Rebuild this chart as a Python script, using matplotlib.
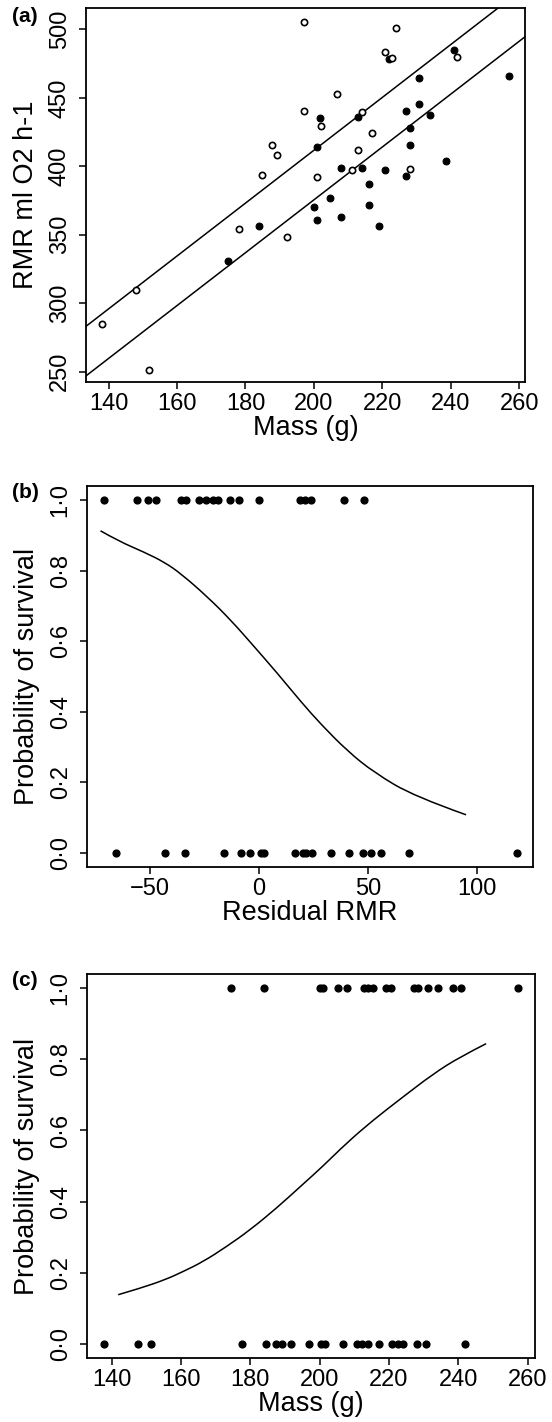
import matplotlib
matplotlib.use('Agg')
import matplotlib.pyplot as plt
from matplotlib.path import Path
from matplotlib.patches import PathPatch
import numpy as np

plt.rcParams['font.family'] = ['Liberation Sans', 'DejaVu Sans']
plt.rcParams['axes.unicode_minus'] = True

# panel (a): survivors (filled) and non-survivors (open)
mass_surv = [241.0, 221.9, 230.7, 257.0, 201.9, 212.9, 227.0, 230.7, 233.9, 200.9,
             228.0, 228.0, 208.0, 214.0, 220.8, 227.0, 216.1, 238.7, 204.8, 200.0,
             216.0, 200.9, 208.0, 219.0, 184.0, 175.0]
rmr_surv = [484.9, 478.3, 464.4, 466.1, 435.5, 435.7, 440.1, 445.2, 437.2, 414.1,
            427.9, 415.3, 398.5, 398.9, 397.3, 392.7, 387.3, 403.8, 376.6, 370.5,
            371.5, 360.8, 363.0, 356.2, 356.2, 330.6]
mass_dead = [197.0, 223.9, 220.9, 222.7, 241.8, 206.8, 197.0, 214.0, 202.0, 217.1,
             187.8, 189.1, 212.9, 211.0, 228.0, 184.8, 200.8, 178.0, 192.0, 148.0,
             138.1, 151.8]
rmr_dead = [505.1, 501.2, 483.6, 478.8, 479.6, 452.8, 440.3, 439.6, 429.4, 424.5,
            415.3, 408.4, 411.9, 397.3, 397.8, 393.6, 392.4, 354.0, 348.1, 309.7,
            284.9, 251.5]
# fitted lines (intercept, common slope)
line_intercepts = [25.7, -10.5]
line_slope = 1.93

# panel (b): residual RMR vs survival
resid_surv = [-71.1, -56.0, -50.9, -47.1, -35.6, -33.3, -27.2, -24.1, -21.1, -18.8,
              -13.4, -8.9, 0.3, 18.7, 21.4, 24.0, 39.0, 48.5]
resid_dead = [-65.7, -43.1, -33.9, -16.1, -8.1, -4.0, 1.1, 2.6, 16.5, 20.2,
              21.7, 24.5, 33.2, 41.6, 48.0, 51.6, 56.3, 69.0, 118.3]
curve_b_x = [-72.6, -64.7, -52.4, -43.3, -35.6, -23.4, -12.7, -2.0, 8.7, 19.4,
             28.6, 40.8, 53.1, 71.4, 95.1]
curve_b_y = [0.913, 0.885, 0.852, 0.824, 0.791, 0.725, 0.659, 0.584, 0.508, 0.428,
             0.364, 0.288, 0.227, 0.160, 0.108]

# panel (c): mass vs survival
massc_surv = [174.4, 184.0, 200.0, 201.0, 205.3, 208.0, 212.8, 213.9, 215.4, 219.2,
              220.6, 227.2, 228.3, 231.2, 234.1, 238.4, 240.8, 257.3]
massc_dead = [137.7, 147.5, 151.5, 177.6, 184.6, 187.5, 189.0, 191.8, 196.8, 200.5,
              201.5, 206.7, 210.8, 212.2, 213.9, 217.0, 220.8, 222.6, 224.0, 228.0,
              230.7, 241.9]
curve_c_x = [141.9, 148.2, 155.4, 160.6, 166.4, 173.1, 179.9, 187.5, 194.3, 201.0,
             207.7, 215.4, 224.0, 232.6, 240.3, 248.0]
curve_c_y = [0.138, 0.156, 0.180, 0.203, 0.231, 0.273, 0.320, 0.381, 0.441, 0.500,
             0.564, 0.629, 0.694, 0.758, 0.806, 0.844]

prob_ticks = [0.0, 0.2, 0.4, 0.6, 0.8, 1.0]
prob_labels = ['0·0', '0·2', '0·4', '0·6', '0·8', '1·0']

W, H = 552, 1422
fig = plt.figure(figsize=(W / 100, H / 100), dpi=100)


def rect(l, r, t, b):
    return [l / W, 1 - b / H, (r - l) / W, (b - t) / H]


def style(ax):
    for s in ax.spines.values():
        s.set_linewidth(1.3)
    ax.tick_params(direction='out', length=5, width=1.1, labelsize=17)
    ax.tick_params(axis='y', pad=6)
    ax.tick_params(axis='x', pad=3)
    for lab in ax.get_yticklabels():
        lab.set_rotation(90)
        lab.set_va('center')


def smooth_curve(ax, xs, ys):
    # quadratic bezier through the read points, so the fitted curve looks smooth
    pts = list(zip(xs, ys))
    verts = [pts[0]]
    codes = [Path.MOVETO]
    for i in range(1, len(pts) - 1):
        mid = ((pts[i][0] + pts[i + 1][0]) / 2, (pts[i][1] + pts[i + 1][1]) / 2)
        if i == len(pts) - 2:
            mid = pts[-1]
        verts += [pts[i], mid]
        codes += [Path.CURVE3, Path.CURVE3]
    ax.add_patch(PathPatch(Path(verts, codes), facecolor='none', edgecolor='black', lw=1.1))


MS = 24
LBL = 19.5

# (a)
ax1 = fig.add_axes(rect(86, 525, 8, 382))
ax1.scatter(mass_surv, rmr_surv, s=MS, c='black', edgecolors='black', linewidths=0.8, zorder=3)
ax1.scatter(mass_dead, rmr_dead, s=MS * 0.85, facecolors='white', edgecolors='black', linewidths=1.2, zorder=3)
for b0 in line_intercepts:
    ax1.axline((0, b0), slope=line_slope, color='black', lw=1.1)
ax1.set_xlim(133.4, 261.7)
ax1.set_ylim(242.5, 515.6)
ax1.set_xticks(np.arange(140, 261, 20))
ax1.set_yticks(np.arange(250, 501, 50))
style(ax1)
ax1.set_xlabel('Mass (g)', fontsize=LBL, labelpad=0)
ax1.set_ylabel('RMR ml O2 h-1', fontsize=LBL, labelpad=7)
fig.text(12 / W, 1 - 16 / H, '(a)', fontsize=15, fontweight='bold', va='center', ha='left')

# (b)
ax2 = fig.add_axes(rect(87, 533, 486, 867))
ax2.scatter(resid_surv, [1] * len(resid_surv), s=MS, c='black', zorder=3)
ax2.scatter(resid_dead, [0] * len(resid_dead), s=MS, c='black', zorder=3)
smooth_curve(ax2, curve_b_x, curve_b_y)
ax2.set_xlim(-78.8, 125.8)
ax2.set_ylim(-0.04, 1.04)
ax2.set_xticks([-50, 0, 50, 100])
ax2.set_xticklabels(['−50', '0', '50', '100'])
ax2.set_yticks(prob_ticks)
ax2.set_yticklabels(prob_labels)
style(ax2)
ax2.set_xlabel('Residual RMR', fontsize=LBL, labelpad=0)
ax2.set_ylabel('Probability of survival', fontsize=LBL, labelpad=7)
fig.text(12 / W, 1 - 492 / H, '(b)', fontsize=15, fontweight='bold', va='center', ha='left')

# (c)
ax3 = fig.add_axes(rect(87, 535, 974, 1358))
ax3.scatter(massc_surv, [1] * len(massc_surv), s=MS, c='black', zorder=3)
ax3.scatter(massc_dead, [0] * len(massc_dead), s=MS, c='black', zorder=3)
smooth_curve(ax3, curve_c_x, curve_c_y)
ax3.set_xlim(132.9, 262.1)
ax3.set_ylim(-0.04, 1.04)
ax3.set_xticks(np.arange(140, 261, 20))
ax3.set_yticks(prob_ticks)
ax3.set_yticklabels(prob_labels)
style(ax3)
ax3.set_xlabel('Mass (g)', fontsize=LBL, labelpad=0)
ax3.set_ylabel('Probability of survival', fontsize=LBL, labelpad=7)
fig.text(12 / W, 1 - 980 / H, '(c)', fontsize=15, fontweight='bold', va='center', ha='left')

fig.savefig('out.png', dpi=100, facecolor='white')
